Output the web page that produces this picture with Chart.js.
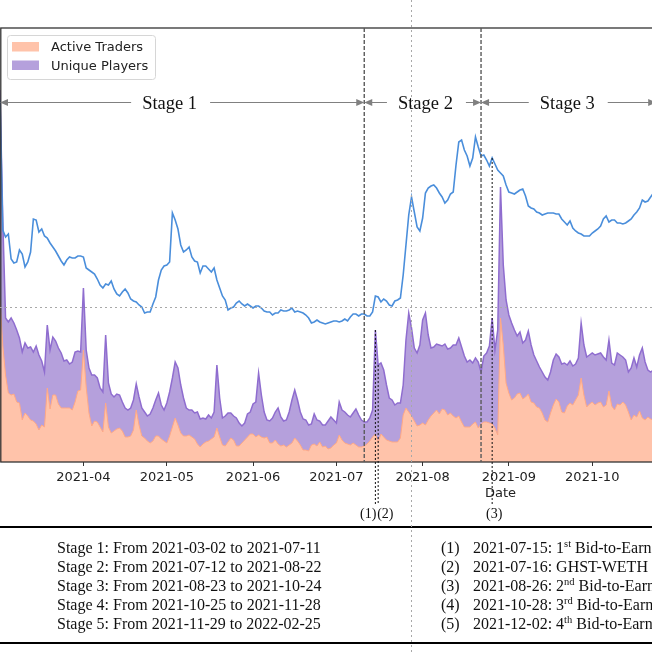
<!DOCTYPE html>
<html>
<head>
<meta charset="utf-8">
<script src="https://cdn.jsdelivr.net/npm/chart.js@4.4.1/dist/chart.umd.min.js"></script>
<style>
  html, body { margin: 0; padding: 0; background: #fff; overflow: hidden; }
  #wrap { position: relative; width: 652px; height: 652px; overflow: hidden; }
  #chart { position: absolute; left: 0; top: 0; }
</style>
</head>
<body>
<div id="wrap"><canvas id="chart" width="1002" height="652"></canvas></div>
<script>
// one value per day, first day = startDate
const startDate = '2021-03-02';
const endDate = '2022-02-25';

const activeTraders = [
  810,585,435,345,335,340,300,295,210,245,
  230,210,205,190,160,185,175,370,265,335,
  335,290,270,270,270,270,260,300,355,360,
  560,375,245,180,205,200,175,150,295,175,
  145,155,165,170,155,125,125,130,160,260,
  185,130,120,105,95,105,130,130,115,105,
  95,130,175,220,185,145,130,130,135,125,
  115,90,75,90,100,105,115,125,170,125,
  85,80,100,120,110,80,80,95,110,125,
  140,140,125,135,125,120,125,95,95,110,
  90,80,85,75,85,95,120,105,85,60,
  60,55,85,90,80,100,75,80,65,70,
  85,95,135,110,95,90,85,95,85,75,
  75,80,90,105,125,140,100,140,125,110,
  105,100,100,100,120,235,270,250,230,205,
  180,185,195,185,210,230,245,260,240,265,
  260,235,245,230,220,230,200,175,175,175,
  190,200,170,190,200,200,195,190,170,135,
  720,585,395,345,310,320,340,345,315,325,
  340,300,295,275,270,245,210,200,245,285,
  315,300,250,245,280,295,285,310,335,420,
  335,275,290,300,285,295,300,275,285,355,
  280,260,290,285,300,285,250,210,235,225,
  255,220,210,225,215,210,210
];

const uniquePlayers = [
  1860,1210,720,700,720,695,660,620,550,595,
  570,575,550,580,535,505,450,685,560,625,
  605,570,545,505,510,490,500,550,555,550,
  870,560,470,435,435,420,370,350,635,395,
  340,325,340,335,300,270,260,270,310,390,
  325,270,250,230,240,270,310,345,285,260,
  295,350,420,500,470,385,320,270,260,260,
  245,250,215,220,215,235,220,250,485,320,
  220,230,245,245,230,220,195,180,195,240,
  250,290,300,445,335,250,210,205,220,250,
  270,225,205,210,250,310,360,310,250,215,
  210,185,190,240,210,205,185,185,205,225,
  210,195,300,260,250,235,225,245,265,235,
  210,200,200,220,260,660,485,495,460,385,
  320,310,285,295,295,385,610,745,670,570,
  545,585,710,745,635,570,575,590,585,580,
  590,565,570,585,585,620,575,530,500,510,
  495,520,500,450,530,545,580,720,560,660,
  1375,985,810,735,695,660,630,650,595,610,
  655,585,535,505,475,450,425,410,450,510,
  540,525,490,495,485,505,480,490,520,695,
  585,525,535,545,535,540,545,525,510,610,
  495,485,545,535,525,510,450,470,520,475,
  535,570,500,460,450,460,460
];

// third series, right-hand axis, not in the legend
const blueLine = [
  3620,2320,2250,2280,2030,1990,2000,2120,2080,1950,
  2000,2100,2430,2420,2300,2330,2260,2240,2190,2150,
  2110,2060,2010,1970,2020,2050,2040,2040,2060,2060,
  2050,1940,1920,1900,1880,1830,1770,1740,1780,1770,
  1810,1730,1680,1660,1700,1730,1690,1630,1610,1600,
  1570,1550,1490,1500,1500,1580,1650,1820,1920,1960,
  1970,2000,2490,2420,2330,2170,2100,2120,2150,2050,
  2010,2000,1890,1960,1960,1930,1900,1940,1820,1740,
  1660,1620,1520,1540,1550,1590,1610,1580,1560,1580,
  1560,1540,1560,1560,1540,1510,1500,1500,1470,1490,
  1490,1520,1510,1510,1520,1540,1500,1510,1500,1490,
  1470,1440,1390,1400,1420,1400,1390,1380,1390,1400,
  1410,1410,1400,1410,1430,1410,1450,1480,1480,1460,
  1480,1480,1460,1460,1500,1660,1650,1600,1630,1610,
  1570,1560,1610,1620,1640,1870,2170,2470,2650,2500,
  2350,2310,2440,2690,2740,2760,2770,2740,2690,2650,
  2590,2620,2680,2700,2970,3200,3220,3120,3060,2960,
  3040,3250,3150,3060,3070,3020,2960,3040,2980,2920,
  2890,2860,2770,2700,2690,2680,2700,2720,2730,2660,
  2560,2540,2530,2500,2490,2470,2480,2490,2490,2490,
  2480,2480,2430,2400,2370,2410,2340,2310,2290,2280,
  2260,2260,2260,2290,2310,2330,2360,2430,2460,2400,
  2420,2420,2390,2390,2380,2390,2410,2430,2470,2500,
  2540,2620,2600,2610,2650,2690,2720
];

const monthTicks = ['2021-04-01','2021-05-01','2021-06-01','2021-07-01','2021-08-01','2021-09-01',
  '2021-10-01','2021-11-01','2021-12-01','2022-01-01','2022-02-01'];

const stageNames = ['Stage 1','Stage 2','Stage 3','Stage 4','Stage 5'];
const stageStart = ['2021-03-02','2021-07-12','2021-08-23','2021-10-25','2021-11-29'];
const stageEnd = ['2021-07-11','2021-08-22','2021-10-24','2021-11-28','2022-02-25'];
const stageLabelAt = ['2021-05-02','2021-08-02','2021-09-22','2021-11-11','2022-01-12'];

const eventDates = ['2021-07-15','2021-07-16','2021-08-26','2021-10-28','2021-12-02'];
const eventNum = ['1','','2','3','4'];
const eventSup = ['st','','nd','rd','th'];
const eventText = [' Bid-to-Earn','GHST-WETH',' Bid-to-Earn',' Bid-to-Earn',' Bid-to-Earn'];
const eventAnchor = ['players','players','line','line','line'];
const eventAlign = ['right','left','center','center','center'];

const dayMs = 86400000;
function dayIndex(s) { return Math.round((Date.parse(s) - Date.parse(startDate)) / dayMs); }
const lastDay = dayIndex(endDate);
const toXY = arr => arr.map((v, i) => ({ x: i, y: v }));

const serif = '"Liberation Serif", "Times New Roman", serif';
const sans = '"DejaVu Sans", sans-serif';

function arrowHead(ctx, tip, yy, dir) {
  ctx.beginPath();
  ctx.moveTo(tip, yy);
  ctx.lineTo(tip - dir * 8, yy - 3.5);
  ctx.lineTo(tip - dir * 8, yy + 3.5);
  ctx.closePath();
  ctx.fill();
}

const legendBox = {
  id: 'legendBox',
  afterDraw(chart) {
    const ctx = chart.ctx;
    const items = chart.data.datasets.filter(d => d.label);
    ctx.save();
    ctx.beginPath();
    ctx.roundRect(7.5, 35.5, 148, 44, 3);
    ctx.fillStyle = 'rgba(255,255,255,0.85)';
    ctx.fill();
    ctx.strokeStyle = '#d6d6d6';
    ctx.lineWidth = 1;
    ctx.stroke();
    ctx.font = '13px ' + sans;
    ctx.textBaseline = 'middle';
    items.forEach((d, i) => {
      const yy = 47 + i * 18.5;
      ctx.fillStyle = d.backgroundColor;
      ctx.fillRect(12, yy - 5, 27, 9.5);
      ctx.fillStyle = '#222';
      ctx.fillText(d.label, 51, yy + 1);
    });
    ctx.restore();
  }
};

const annotate = {
  id: 'annotate',
  afterDraw(chart) {
    const { ctx, chartArea: ca, scales } = chart;
    const x = scales.x, y = scales.y, y1 = scales.y1;
    ctx.save();

    // frame
    ctx.strokeStyle = '#333';
    ctx.lineWidth = 1.3;
    ctx.strokeRect(ca.left + 0.8, ca.top, ca.width, ca.height);

    // stage boundaries
    ctx.strokeStyle = '#5a5a5a';
    ctx.lineWidth = 1.4;
    ctx.setLineDash([4, 2]);
    stageEnd.slice(0, -1).forEach(d => {
      const px = x.getPixelForValue(dayIndex(d));
      ctx.beginPath(); ctx.moveTo(px, ca.top); ctx.lineTo(px, ca.bottom); ctx.stroke();
    });
    ctx.setLineDash([]);

    // stage arrows and labels
    const ay = 102.5;
    ctx.font = '18.5px ' + serif;
    ctx.textAlign = 'center';
    ctx.textBaseline = 'alphabetic';
    stageNames.forEach((name, i) => {
      const x0 = x.getPixelForValue(i === 0 ? dayIndex(stageStart[0]) : dayIndex(stageEnd[i - 1]));
      const x1 = x.getPixelForValue(dayIndex(stageEnd[i]));
      ctx.strokeStyle = '#808080';
      ctx.fillStyle = '#808080';
      ctx.lineWidth = 1;
      ctx.beginPath(); ctx.moveTo(x0 + 2, ay); ctx.lineTo(x1 - 2, ay); ctx.stroke();
      arrowHead(ctx, x0, ay, -1);
      arrowHead(ctx, x1, ay, 1);
      const cx = x.getPixelForValue(dayIndex(stageLabelAt[i]));
      const w = ctx.measureText(name).width;
      ctx.fillStyle = '#fff';
      ctx.fillRect(cx - w / 2 - 11, ay - 12, w + 24, 24);
      ctx.fillStyle = '#111';
      ctx.fillText(name, cx, ay + 6);
    });

    // events
    ctx.font = '14px ' + serif;
    ctx.textBaseline = 'middle';
    eventDates.forEach((d, i) => {
      const di = dayIndex(d);
      const src = eventAnchor[i] === 'line' ? blueLine : uniquePlayers;
      if (src[di] === undefined) return;
      const sc = eventAnchor[i] === 'line' ? y1 : y;
      const px = x.getPixelForValue(di);
      const top = sc.getPixelForValue(src[di]);
      ctx.strokeStyle = '#111';
      ctx.lineWidth = 1;
      ctx.setLineDash([2, 2]);
      ctx.beginPath(); ctx.moveTo(px, top); ctx.lineTo(px, ca.bottom + 42); ctx.stroke();
      ctx.setLineDash([]);
      ctx.fillStyle = '#111';
      ctx.textAlign = eventAlign[i];
      const lx = eventAlign[i] === 'right' ? px + 1 : eventAlign[i] === 'left' ? px - 1 : px + 2;
      ctx.fillText('(' + (i + 1) + ')', lx, ca.bottom + 52);
    });

    // table
    const ruleTop = 527, ruleBottom = 643;
    ctx.strokeStyle = '#000';
    ctx.lineWidth = 2;
    [ruleTop, ruleBottom].forEach(ry => {
      ctx.beginPath(); ctx.moveTo(0, ry); ctx.lineTo(chart.width, ry); ctx.stroke();
    });
    ctx.fillStyle = '#111';
    ctx.textAlign = 'left';
    ctx.textBaseline = 'alphabetic';
    const rowBase = 553, rowStep = 19;
    stageNames.forEach((name, i) => {
      ctx.font = '16px ' + serif;
      ctx.fillText(name + ': From ' + stageStart[i] + ' to ' + stageEnd[i], 57, rowBase + i * rowStep);
    });
    eventDates.forEach((d, i) => {
      const by = rowBase + i * rowStep;
      ctx.font = '16px ' + serif;
      ctx.fillText('(' + (i + 1) + ')', 441, by);
      let tx = 473;
      const parts = [[d + ': ' + eventNum[i], false], [eventSup[i], true], [eventText[i], false]];
      parts.forEach(([t, sup]) => {
        ctx.font = (sup ? '10.5px ' : '16px ') + serif;
        ctx.fillText(t, tx, sup ? by - 6 : by);
        tx += ctx.measureText(t).width;
      });
    });

    // light guide lines across the picture
    ctx.strokeStyle = '#a8a8a8';
    ctx.lineWidth = 1;
    ctx.setLineDash([2, 3]);
    ctx.beginPath(); ctx.moveTo(411.5, 0); ctx.lineTo(411.5, chart.height); ctx.stroke();
    ctx.beginPath(); ctx.moveTo(0, 307.5); ctx.lineTo(chart.width, 307.5); ctx.stroke();
    ctx.restore();
  }
};

new Chart(document.getElementById('chart'), {
  type: 'line',
  data: {
    datasets: [
      { label: 'Active Traders', data: toXY(activeTraders), yAxisID: 'y', order: 1,
        backgroundColor: '#ffc3aa', borderColor: '#ffa986', borderWidth: 1, fill: 'origin',
        pointRadius: 0, tension: 0 },
      { label: 'Unique Players', data: toXY(uniquePlayers), yAxisID: 'y', order: 2,
        backgroundColor: '#b5a0dc', borderColor: '#8f6dcf', borderWidth: 1.5, fill: 'origin',
        pointRadius: 0, tension: 0 },
      { data: toXY(blueLine), yAxisID: 'y1', order: 0,
        borderColor: '#4a8edb', borderWidth: 1.6, fill: false, pointRadius: 0, tension: 0 }
    ]
  },
  options: {
    responsive: false,
    animation: false,
    events: [],
    devicePixelRatio: 1,
    layout: { padding: { left: 0, right: 1, top: 28, bottom: 150 } },
    plugins: { legend: { display: false }, tooltip: { enabled: false } },
    scales: {
      x: {
        type: 'linear', min: 0, max: lastDay,
        afterBuildTicks: s => { s.ticks = monthTicks.map(d => ({ value: dayIndex(d) })); },
        afterFit: s => { s.height = 40; },
        ticks: {
          autoSkip: false, maxRotation: 0, padding: 4, color: '#222',
          font: { family: 'DejaVu Sans', size: 13 },
          callback: v => { const m = monthTicks.find(d => dayIndex(d) === v); return m ? m.slice(0, 7) : ''; }
        },
        grid: { drawOnChartArea: false, drawTicks: true, tickLength: 4, color: '#333' },
        border: { display: false },
        title: { display: true, text: 'Date', color: '#222',
          font: { family: 'DejaVu Sans', size: 13 }, padding: { top: 0, bottom: 1 } }
      },
      y: { display: false, min: 0, max: 2170 },
      y1: { display: false, min: 0, max: 4340 }
    }
  },
  plugins: [legendBox, annotate]
});
</script>
</body>
</html>
